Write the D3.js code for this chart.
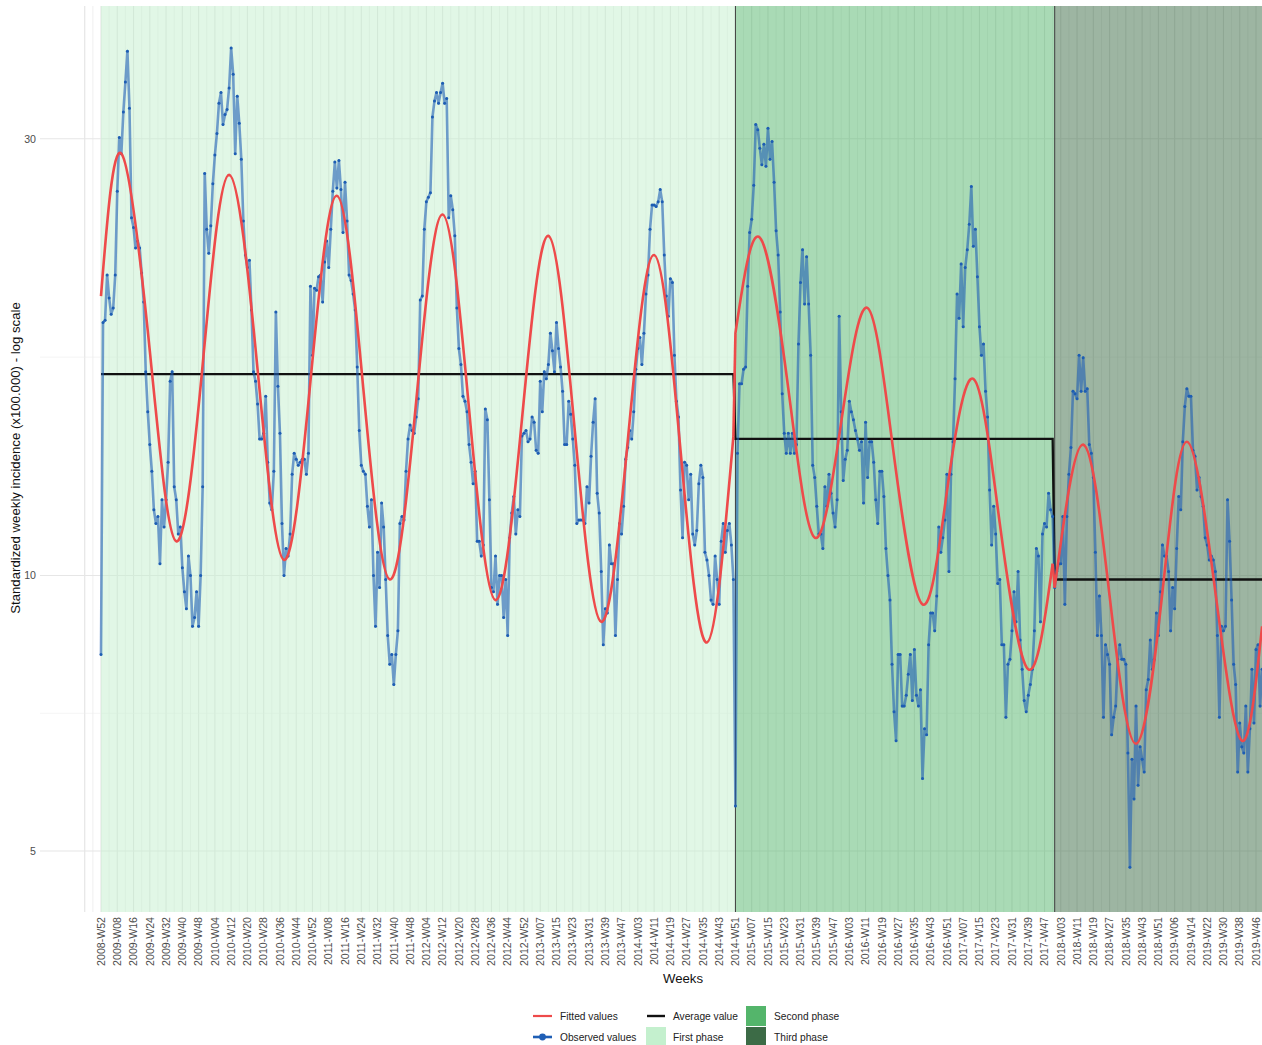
<!DOCTYPE html>
<html>
<head>
<meta charset="utf-8">
<script src="https://cdn.jsdelivr.net/npm/d3@7"></script>
<style>
  body { margin: 0; background: #fff; }
  svg { display: block; font-family: "Liberation Sans", Arial, sans-serif; }
</style>
</head>
<body>
<div id="chart"></div>
<script>
// weeks are counted from 2008-W52; 2012 and 2018 have a week 53 in this data
const firstYear = 2008;
const firstWeekNo = 52;
const weeksInYear = { 2008: 52, 2009: 52, 2010: 52, 2011: 52, 2012: 53, 2013: 52, 2014: 52, 2015: 52, 2016: 52, 2017: 52, 2018: 53, 2019: 52 };

const tickLabels = [
  "2008-W52", "2009-W08", "2009-W16", "2009-W24", "2009-W32", "2009-W40", "2009-W48",
  "2010-W04", "2010-W12", "2010-W20", "2010-W28", "2010-W36", "2010-W44", "2010-W52",
  "2011-W08", "2011-W16", "2011-W24", "2011-W32", "2011-W40", "2011-W48",
  "2012-W04", "2012-W12", "2012-W20", "2012-W28", "2012-W36", "2012-W44", "2012-W52",
  "2013-W07", "2013-W15", "2013-W23", "2013-W31", "2013-W39", "2013-W47",
  "2014-W03", "2014-W11", "2014-W19", "2014-W27", "2014-W35", "2014-W43", "2014-W51",
  "2015-W07", "2015-W15", "2015-W23", "2015-W31", "2015-W39", "2015-W47",
  "2016-W03", "2016-W11", "2016-W19", "2016-W27", "2016-W35", "2016-W43", "2016-W51",
  "2017-W07", "2017-W15", "2017-W23", "2017-W31", "2017-W39", "2017-W47",
  "2018-W03", "2018-W11", "2018-W19", "2018-W27", "2018-W35", "2018-W43", "2018-W51",
  "2019-W06", "2019-W14", "2019-W22", "2019-W30", "2019-W38", "2019-W46"
];

const yTicks = [5, 10, 30];

const phaseNames = ["First phase", "Second phase", "Third phase"];
const phaseStart = ["2008-W52", "2014-W51", "2017-W52"];
const phaseAverage = [16.6, 14.1, 9.9];
const phaseColors = ["#c4f0ce", "#54b56b", "#3c6b46"];

// standardized weekly incidence, one value per week from 2008-W52
const observed = [
  8.2, 18.9, 19.0, 21.3, 20.1, 19.3, 19.6, 21.3, 26.3, 30.1,
  28.9, 32.1, 34.6, 37.4, 32.4, 24.6, 24.0, 22.8, 23.2, 22.8,
  21.4, 19.9, 16.7, 15.1, 13.9, 13.0, 11.8, 11.4, 11.6, 10.3,
  12.1, 11.3, 12.1, 13.3, 16.3, 16.7, 12.5, 12.1, 11.1, 11.3,
  10.2, 9.6, 9.2, 10.5, 10.0, 8.8, 9.0, 9.6, 8.8, 10.0,
  12.5, 27.5, 23.9, 22.5, 24.1, 26.8, 28.8, 30.4, 32.8, 33.7,
  31.1, 31.9, 32.3, 34.1, 37.7, 35.3, 28.9, 33.4, 31.2, 28.5,
  24.4, 22.4, 21.7, 22.1, 19.5, 16.7, 16.3, 15.4, 14.1, 14.1,
  14.3, 15.7, 13.3, 12.0, 11.8, 13.0, 19.4, 16.1, 14.3, 11.4,
  10.0, 10.7, 10.5, 11.1, 12.9, 13.6, 13.4, 13.2, 13.3, 13.4,
  13.4, 12.9, 13.6, 20.7, 17.4, 20.6, 20.5, 21.2, 21.3, 19.9,
  22.0, 23.2, 21.7, 23.9, 26.3, 28.3, 26.5, 28.4, 26.4, 23.7,
  26.9, 24.4, 21.3, 21.0, 20.3, 19.5, 16.9, 14.4, 13.2, 13.0,
  12.9, 11.9, 11.3, 12.1, 10.0, 8.8, 10.6, 9.7, 12.0, 11.3,
  9.9, 8.6, 8.0, 8.2, 7.6, 8.2, 8.7, 11.4, 11.6, 11.5,
  13.0, 14.1, 14.6, 14.4, 14.3, 14.9, 15.6, 20.0, 20.2, 23.9,
  25.6, 25.9, 26.2, 31.7, 33.0, 33.7, 32.8, 33.7, 34.5, 32.8,
  33.2, 24.6, 26.0, 25.1, 23.5, 19.6, 17.7, 17.0, 15.7, 15.5,
  15.1, 13.9, 13.3, 12.6, 13.0, 10.9, 10.9, 10.5, 10.8, 15.2,
  14.8, 12.1, 9.7, 9.6, 10.5, 9.3, 10.0, 10.0, 9.0, 9.9,
  8.6, 11.0, 11.7, 12.2, 11.1, 11.8, 11.6, 14.2, 14.3, 14.4,
  14.0, 14.1, 14.9, 14.7, 13.7, 13.6, 16.3, 15.1, 16.7, 16.4,
  17.0, 18.4, 17.6, 16.7, 18.9, 17.7, 16.9, 15.9, 13.9, 13.9,
  15.5, 15.0, 14.1, 13.2, 11.4, 11.5, 11.5, 11.5, 11.4, 12.5,
  12.0, 13.5, 14.7, 15.6, 12.3, 11.7, 10.1, 8.4, 9.2, 9.1,
  10.8, 10.3, 10.3, 8.6, 9.9, 11.4, 11.1, 11.9, 13.4, 13.8,
  14.4, 14.1, 15.1, 16.8, 17.7, 18.2, 17.0, 18.4, 20.3, 21.3,
  23.9, 25.4, 25.4, 25.3, 25.6, 26.4, 25.6, 22.4, 20.2, 19.2,
  21.1, 20.9, 17.4, 15.5, 14.9, 12.4, 11.0, 13.3, 13.2, 12.1,
  12.9, 11.1, 10.8, 11.2, 12.6, 13.2, 12.8, 10.6, 10.4, 10.0,
  9.4, 9.3, 10.5, 9.9, 9.3, 10.9, 11.4, 10.6, 11.2, 11.4,
  10.8, 9.9, 5.6, 13.6, 16.2, 16.2, 16.8, 16.9, 20.7, 23.7,
  24.5, 26.7, 31.1, 30.7, 29.3, 28.1, 29.6, 28.0, 30.8, 28.5,
  29.8, 26.9, 23.8, 22.4, 19.4, 15.8, 14.3, 13.6, 14.3, 13.6,
  14.3, 13.6, 13.9, 17.9, 20.9, 22.7, 19.8, 22.3, 19.8, 17.4,
  13.2, 12.8, 11.9, 11.1, 11.1, 10.7, 12.5, 11.9, 12.9, 12.3,
  11.7, 11.3, 12.1, 19.2, 15.1, 12.7, 13.4, 13.7, 15.5, 15.1,
  14.8, 14.4, 14.1, 13.7, 14.0, 12.0, 14.7, 12.8, 14.0, 14.0,
  13.3, 12.1, 11.4, 13.0, 13.0, 12.2, 10.7, 10.0, 9.4, 8.0,
  7.1, 6.6, 8.2, 8.2, 7.2, 7.2, 7.4, 7.8, 8.2, 7.3,
  8.3, 7.4, 7.2, 7.5, 6.0, 6.8, 6.7, 8.4, 9.1, 9.1,
  8.7, 9.5, 11.3, 10.6, 11.0, 11.5, 12.9, 10.1, 12.9, 14.0,
  16.4, 20.3, 19.1, 21.9, 18.7, 21.7, 22.7, 24.2, 26.6, 22.9,
  23.9, 21.2, 18.7, 17.4, 17.9, 15.9, 14.9, 12.4, 10.8, 11.9,
  11.1, 9.8, 9.9, 8.4, 8.4, 7.0, 8.0, 8.1, 8.7, 9.6,
  8.9, 10.1, 8.5, 7.9, 7.3, 7.1, 7.4, 7.6, 7.9, 8.7,
  10.7, 10.5, 8.9, 11.1, 11.4, 11.3, 12.3, 11.8, 11.6, 9.7,
  10.1, 10.3, 10.3, 11.6, 9.3, 11.6, 12.9, 13.8, 15.9, 15.8,
  15.6, 17.4, 15.9, 17.3, 15.9, 16.0, 13.9, 13.6, 12.8, 10.6,
  8.6, 9.5, 8.6, 7.0, 8.4, 8.2, 8.0, 6.7, 7.0, 7.2,
  8.1, 8.4, 8.1, 8.1, 8.0, 6.4, 4.8, 6.3, 5.7, 7.2,
  5.9, 6.5, 6.3, 6.1, 7.5, 7.7, 8.5, 7.9, 8.1, 9.1,
  8.6, 9.6, 10.8, 10.5, 10.5, 10.1, 8.7, 9.7, 9.2, 10.7,
  12.2, 11.8, 14.0, 15.3, 16.0, 15.7, 15.7, 13.7, 13.5, 12.4,
  12.8, 12.2, 11.9, 11.0, 10.8, 10.4, 10.5, 10.4, 10.1, 8.6,
  7.0, 8.8, 8.7, 8.8, 12.1, 10.9, 9.4, 8.0, 7.6, 6.1,
  6.9, 6.5, 6.4, 7.2, 6.1, 6.8, 7.9, 6.9, 8.3, 8.4,
  7.2, 7.9
];

// fitted values read at peaks, troughs and mid-crossings (week number from 2008-W52)
const fittedWeek1 = [0, 10, 24, 37, 50, 63, 77, 90, 103, 116, 129, 142, 155, 168, 181, 194, 207, 220, 233, 246, 259, 272, 285, 298, 311];
const fittedValue1 = [20.2, 28.9, 17.6, 10.9, 17.0, 27.4, 16.8, 10.4, 16.3, 26.0, 16.0, 9.9, 15.5, 24.8, 15.2, 9.4, 14.8, 23.5, 14.4, 8.9, 14.0, 22.4, 13.7, 8.45, 14.2];
const fittedWeek2 = [312, 324, 338, 351, 364, 377, 390, 404, 416, 429, 442, 456, 468];
const fittedValue2 = [18.4, 23.4, 16.0, 11.0, 14.7, 19.6, 13.5, 9.3, 12.35, 16.4, 11.4, 7.9, 10.3];
const fittedWeek3 = [469, 483, 496, 509, 522, 534, 548, 561, 571];
const fittedValue3 = [9.7, 13.9, 9.5, 6.55, 9.6, 14.0, 9.6, 6.6, 8.8];

const width = 1262, height = 1045;
const panel = { left: 40, right: 1262, top: 6, bottom: 912 };

const weeks = [];
{
  let yr = firstYear, wk = firstWeekNo;
  for (let i = 0; i < observed.length; i++) {
    weeks.push(`${yr}-W${String(wk).padStart(2, "0")}`);
    wk++;
    if (wk > weeksInYear[yr]) { yr++; wk = 1; }
  }
}

const x = d3.scaleLinear()
  .domain([0, weeks.indexOf("2019-W46")])
  .range([101, 1256]);

const y = d3.scaleLog()
  .domain([4.3, 41.9])
  .range([911, 6]);

const svg = d3.select("#chart")
  .append("svg")
  .attr("width", width)
  .attr("height", height);

svg.append("defs").append("clipPath")
  .attr("id", "panel-clip")
  .append("rect")
  .attr("x", panel.left)
  .attr("y", panel.top)
  .attr("width", panel.right - panel.left)
  .attr("height", panel.bottom - panel.top);

const plot = svg.append("g").attr("clip-path", "url(#panel-clip)");

// grid: major lines every 8 weeks, minor halfway
const majorX = d3.range(-8, 600, 8).filter(i => x(i) <= panel.right);
const minorX = d3.range(-4, 600, 8).filter(i => x(i) <= panel.right);
const minorY = [Math.sqrt(yTicks[0] * yTicks[1]), Math.sqrt(yTicks[1] * yTicks[2])];

plot.selectAll(".gx-minor").data(minorX).enter().append("line")
  .attr("x1", d => x(d)).attr("x2", d => x(d))
  .attr("y1", panel.top).attr("y2", panel.bottom)
  .attr("stroke", "#e6e6e6").attr("stroke-width", 0.6);
plot.selectAll(".gx-major").data(majorX).enter().append("line")
  .attr("x1", d => x(d)).attr("x2", d => x(d))
  .attr("y1", panel.top).attr("y2", panel.bottom)
  .attr("stroke", "#e3e3e3").attr("stroke-width", 1.1);
plot.selectAll(".gy-minor").data(minorY).enter().append("line")
  .attr("x1", panel.left).attr("x2", panel.right)
  .attr("y1", d => y(d)).attr("y2", d => y(d))
  .attr("stroke", "#ececec").attr("stroke-width", 0.6);
plot.selectAll(".gy-major").data(yTicks).enter().append("line")
  .attr("x1", panel.left).attr("x2", panel.right)
  .attr("y1", d => y(d)).attr("y2", d => y(d))
  .attr("stroke", "#e6e6e6").attr("stroke-width", 1.1);

// phase backgrounds
const phases = phaseNames.map((name, k) => ({
  name,
  start: weeks.indexOf(phaseStart[k]),
  end: k < phaseNames.length - 1 ? weeks.indexOf(phaseStart[k + 1]) : null,
  avg: phaseAverage[k],
  color: phaseColors[k]
}));

plot.selectAll(".phase").data(phases).enter().append("rect")
  .attr("x", d => x(d.start))
  .attr("y", panel.top)
  .attr("width", d => (d.end === null ? panel.right + 10 : x(d.end)) - x(d.start))
  .attr("height", panel.bottom - panel.top)
  .attr("fill", d => d.color)
  .attr("fill-opacity", 0.5);

plot.selectAll(".phase-line").data(phases.slice(1)).enter().append("line")
  .attr("x1", d => x(d.start)).attr("x2", d => x(d.start))
  .attr("y1", panel.top).attr("y2", panel.bottom)
  .attr("stroke", "#3d3d3d").attr("stroke-width", 1);

// average value per phase, as one line over all weeks
const avgPoints = [];
phases.forEach(p => {
  const last = p.end === null ? observed.length - 1 : p.end - 1;
  avgPoints.push([p.start, p.avg], [last, p.avg]);
});
plot.append("path")
  .datum(avgPoints)
  .attr("fill", "none")
  .attr("stroke", "#111")
  .attr("stroke-width", 2.3)
  .attr("d", d3.line().x(d => x(d[0])).y(d => y(d[1])));

// observed values
const obs = observed.map((v, i) => ({ i, v, week: weeks[i] }));
plot.append("path")
  .datum(obs)
  .attr("fill", "none")
  .attr("stroke", "#1f5fb5")
  .attr("stroke-opacity", 0.6)
  .attr("stroke-width", 2.6)
  .attr("stroke-linejoin", "round")
  .attr("d", d3.line().x(d => x(d.i)).y(d => y(d.v)));

plot.selectAll(".obs").data(obs).enter().append("circle")
  .attr("cx", d => x(d.i))
  .attr("cy", d => y(d.v))
  .attr("r", 1.5)
  .attr("fill", "#1d5db3");

// fitted values: smooth within each phase, joined across phase changes
const fittedSegments = [
  fittedWeek1.map((w, k) => [w, fittedValue1[k]]),
  fittedWeek2.map((w, k) => [w, fittedValue2[k]]),
  fittedWeek3.map((w, k) => [w, fittedValue3[k]])
];
const fittedLine = d3.line().x(d => x(d[0])).y(d => y(d[1])).curve(d3.curveNatural);
const redColor = "#ee4a4a";

plot.selectAll(".fit").data(fittedSegments).enter().append("path")
  .attr("fill", "none")
  .attr("stroke", redColor)
  .attr("stroke-width", 2.6)
  .attr("d", fittedLine);

plot.selectAll(".fit-join").data(d3.pairs(fittedSegments)).enter().append("line")
  .attr("x1", d => x(d[0][d[0].length - 1][0]))
  .attr("y1", d => y(d[0][d[0].length - 1][1]))
  .attr("x2", d => x(d[1][0][0]))
  .attr("y2", d => y(d[1][0][1]))
  .attr("stroke", redColor)
  .attr("stroke-width", 2.6);

// axes text
svg.selectAll(".xlab").data(tickLabels).enter().append("text")
  .attr("transform", d => `translate(${x(weeks.indexOf(d))},917) rotate(-90)`)
  .attr("text-anchor", "end")
  .attr("dy", "0.35em")
  .attr("font-size", "10.6px")
  .attr("fill", "#4d4d4d")
  .text(d => d);

svg.selectAll(".ylab").data(yTicks).enter().append("text")
  .attr("x", 36)
  .attr("y", d => y(d))
  .attr("text-anchor", "end")
  .attr("dy", "0.35em")
  .attr("font-size", "10.6px")
  .attr("fill", "#4d4d4d")
  .text(d => d);

svg.append("text")
  .attr("transform", "translate(15,458) rotate(-90)")
  .attr("text-anchor", "middle")
  .attr("dy", "0.35em")
  .attr("font-size", "13.2px")
  .attr("fill", "#111")
  .text("Standardized weekly incidence (x100.000) - log scale");

svg.append("text")
  .attr("x", 683)
  .attr("y", 978)
  .attr("text-anchor", "middle")
  .attr("dy", "0.35em")
  .attr("font-size", "13.2px")
  .attr("fill", "#111")
  .text("Weeks");

// legend
const legend = svg.append("g").attr("font-size", "10.2px").attr("fill", "#222");
const rowY = [1016, 1037];

legend.append("line").attr("x1", 533).attr("x2", 552).attr("y1", rowY[0]).attr("y2", rowY[0])
  .attr("stroke", redColor).attr("stroke-width", 2.2);
legend.append("text").attr("x", 560).attr("y", rowY[0]).attr("dy", "0.35em").text("Fitted values");

legend.append("line").attr("x1", 533).attr("x2", 552).attr("y1", rowY[1]).attr("y2", rowY[1])
  .attr("stroke", "#1f5fb5").attr("stroke-width", 2.6);
legend.append("circle").attr("cx", 542.5).attr("cy", rowY[1]).attr("r", 3.4).attr("fill", "#1f5fb5");
legend.append("text").attr("x", 560).attr("y", rowY[1]).attr("dy", "0.35em").text("Observed values");

legend.append("line").attr("x1", 647).attr("x2", 665).attr("y1", rowY[0]).attr("y2", rowY[0])
  .attr("stroke", "#111").attr("stroke-width", 2.4);
legend.append("text").attr("x", 673).attr("y", rowY[0]).attr("dy", "0.35em").text("Average value");

const keySlots = [
  { x: 646, y: rowY[1], tx: 673 },
  { x: 746, y: rowY[0], tx: 774 },
  { x: 746, y: rowY[1], tx: 774 }
];
phases.forEach((p, k) => {
  const s = keySlots[k];
  legend.append("rect")
    .attr("x", s.x).attr("y", s.y - 10)
    .attr("width", 20).attr("height", 20)
    .attr("fill", p.color);
  legend.append("text").attr("x", s.tx).attr("y", s.y).attr("dy", "0.35em").text(p.name);
});
</script>
</body>
</html>
